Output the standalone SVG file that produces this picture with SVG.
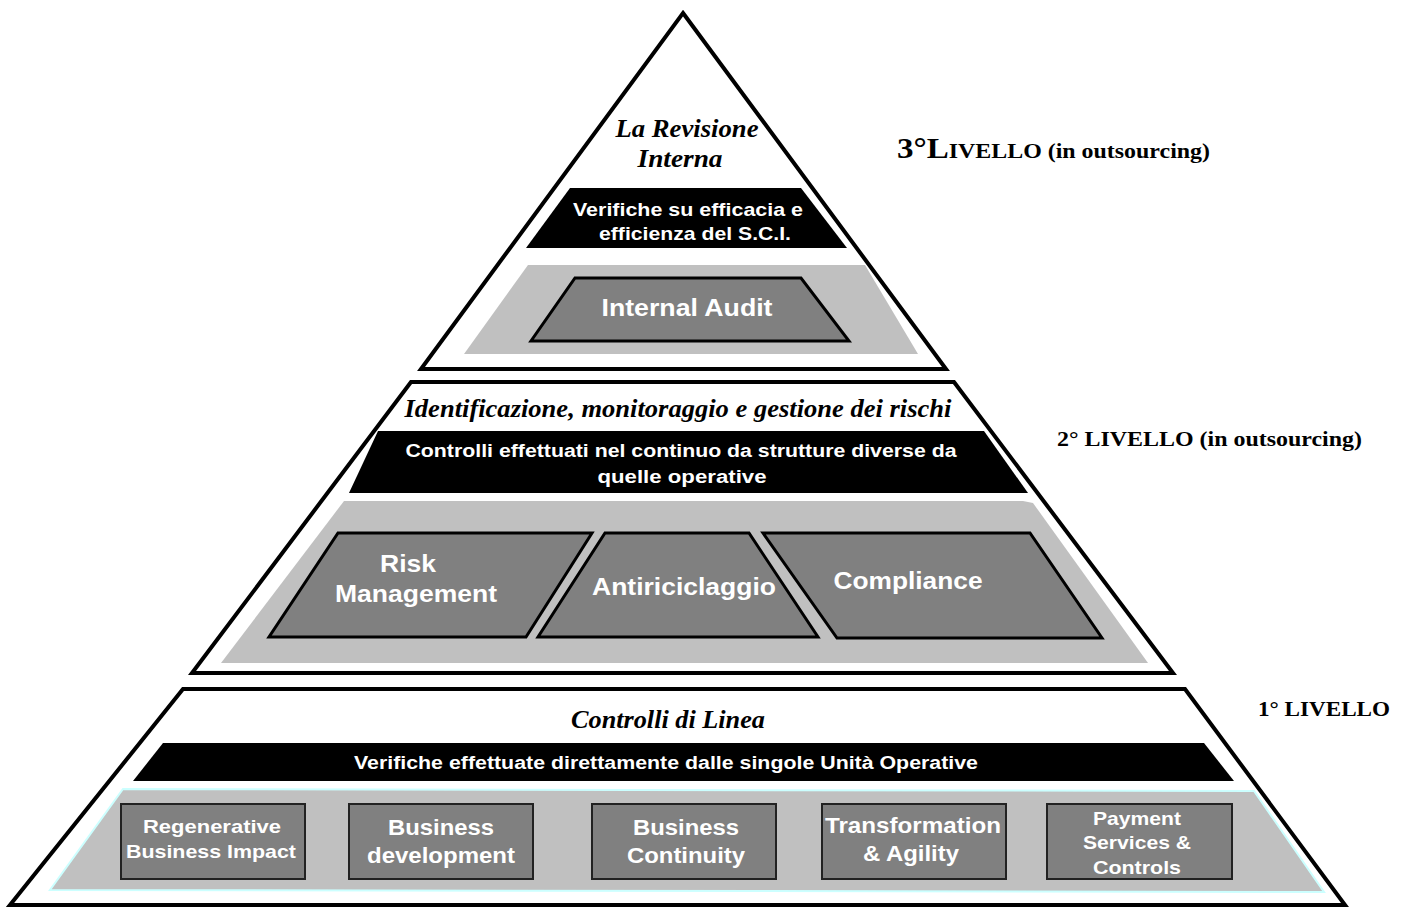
<svg xmlns="http://www.w3.org/2000/svg" width="1405" height="911" viewBox="0 0 1405 911">
<style>
.outline{fill:#fff;stroke:#000;stroke-width:4;stroke-linejoin:miter}
.band{fill:#000}
.gray{fill:#c0c0c0}
.box{fill:#808080;stroke:#000;stroke-width:3;stroke-linejoin:miter}
.ubox{fill:#808080;stroke:#222;stroke-width:2}
.title{font-family:"Liberation Serif",serif;font-weight:bold;font-style:italic;fill:#000;text-anchor:middle}
.wt{font-family:"Liberation Sans",Arial,sans-serif;font-weight:bold;fill:#fff;text-anchor:middle}
.lvl{font-family:"Liberation Serif",serif;font-weight:bold;fill:#000}
</style>
<g id="level3">
<polygon class="outline" points="683,13 946,369 421,369"/>
<text class="title" x="687" y="137" font-size="25" textLength="143" lengthAdjust="spacingAndGlyphs">La Revisione</text>
<text class="title" x="680" y="167" font-size="25" textLength="85" lengthAdjust="spacingAndGlyphs">Interna</text>
<polygon class="band" points="570,188 801,188 847,248 526,248"/>
<text class="wt" x="688" y="216" font-size="19" textLength="230" lengthAdjust="spacingAndGlyphs">Verifiche su efficacia e</text>
<text class="wt" x="695" y="240" font-size="19" textLength="192" lengthAdjust="spacingAndGlyphs">efficienza del S.C.I.</text>
<polygon class="gray" points="528,265 865,265 918,354 464,354"/>
<polygon class="box" points="575,278 801,278 849,341 531,341"/>
<text class="wt" x="687" y="316" font-size="24" textLength="171" lengthAdjust="spacingAndGlyphs">Internal Audit</text>
</g>
<g id="level2">
<polygon class="outline" points="411,382 954,382 1173,673 192,673"/>
<text class="title" x="678" y="417" font-size="25" textLength="547" lengthAdjust="spacingAndGlyphs">Identificazione, monitoraggio e gestione dei rischi</text>
<polygon class="band" points="378,431 984,431 1028,493 349,493"/>
<text class="wt" x="681" y="457" font-size="18" textLength="551" lengthAdjust="spacingAndGlyphs">Controlli effettuati nel continuo da strutture diverse da</text>
<text class="wt" x="682" y="483" font-size="18" textLength="169" lengthAdjust="spacingAndGlyphs">quelle operative</text>
<polygon class="gray" points="344,501 1023,501 1033,503 1148,663 221,663"/>
<polygon class="box" points="338,533 592,533 526,637 269,637"/>
<text class="wt" x="408" y="572" font-size="24" textLength="56" lengthAdjust="spacingAndGlyphs">Risk</text>
<text class="wt" x="416" y="602" font-size="24" textLength="162" lengthAdjust="spacingAndGlyphs">Management</text>
<polygon class="box" points="605,533 749,533 818,637 538,637"/>
<text class="wt" x="684" y="595" font-size="24" textLength="184" lengthAdjust="spacingAndGlyphs">Antiriciclaggio</text>
<polygon class="box" points="763,533 1030,533 1102,638 837,638"/>
<text class="wt" x="908" y="589" font-size="24" textLength="149" lengthAdjust="spacingAndGlyphs">Compliance</text>
</g>
<g id="level1">
<polygon class="outline" points="183,689 1185,689 1345,905 10,905"/>
<text class="title" x="668" y="728" font-size="25" textLength="194" lengthAdjust="spacingAndGlyphs">Controlli di Linea</text>
<polygon class="band" points="163,743 1204,743 1234,781 133,781"/>
<text class="wt" x="666" y="769" font-size="18" textLength="624" lengthAdjust="spacingAndGlyphs">Verifiche effettuate direttamente dalle singole Unità Operative</text>
<polygon class="gray" points="123,789 1254,791 1324,892 50,890" stroke="#ccffff" stroke-width="2"/>
<g id="box-regenerative">
<rect class="ubox" x="121" y="804" width="184" height="75" stroke="#000"/>
<text class="wt" x="212" y="833" font-size="19" textLength="138" lengthAdjust="spacingAndGlyphs">Regenerative</text>
<text class="wt" x="211" y="858" font-size="19" textLength="170" lengthAdjust="spacingAndGlyphs">Business Impact</text>
</g>
<g id="box-development">
<rect class="ubox" x="349" y="804" width="184" height="75"/>
<text class="wt" x="441" y="835" font-size="22" textLength="106" lengthAdjust="spacingAndGlyphs">Business</text>
<text class="wt" x="441" y="863" font-size="22" textLength="148" lengthAdjust="spacingAndGlyphs">development</text>
</g>
<g id="box-continuity">
<rect class="ubox" x="592" y="804" width="184" height="75"/>
<text class="wt" x="686" y="835" font-size="22" textLength="106" lengthAdjust="spacingAndGlyphs">Business</text>
<text class="wt" x="686" y="863" font-size="22" textLength="118" lengthAdjust="spacingAndGlyphs">Continuity</text>
</g>
<g id="box-transformation">
<rect class="ubox" x="822" y="804" width="184" height="75"/>
<text class="wt" x="913" y="833" font-size="22" textLength="176" lengthAdjust="spacingAndGlyphs">Transformation</text>
<text class="wt" x="911" y="861" font-size="22" textLength="96" lengthAdjust="spacingAndGlyphs">&amp; Agility</text>
</g>
<g id="box-payment">
<rect class="ubox" x="1047" y="804" width="185" height="75"/>
<text class="wt" x="1137" y="825" font-size="19" textLength="88" lengthAdjust="spacingAndGlyphs">Payment</text>
<text class="wt" x="1137" y="849" font-size="19" textLength="108" lengthAdjust="spacingAndGlyphs">Services &amp;</text>
<text class="wt" x="1137" y="874" font-size="19" textLength="88" lengthAdjust="spacingAndGlyphs">Controls</text>
</g>
</g>
<g id="labels">
<text class="lvl" x="897" y="158" textLength="313" lengthAdjust="spacingAndGlyphs"><tspan font-size="29">3°L</tspan><tspan font-size="21">IVELLO (in outsourcing)</tspan></text>
<text class="lvl" x="1057" y="446" font-size="21" textLength="305" lengthAdjust="spacingAndGlyphs">2° LIVELLO (in outsourcing)</text>
<text class="lvl" x="1258" y="716" font-size="21" textLength="132" lengthAdjust="spacingAndGlyphs">1° LIVELLO</text>
</g>
<g id="connectors"/>
</svg>
